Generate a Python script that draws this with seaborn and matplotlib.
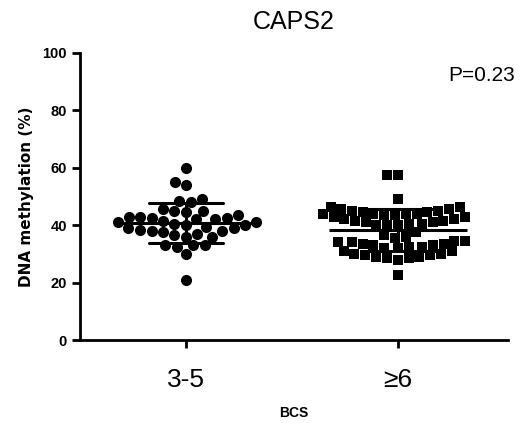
import numpy as np
import pandas as pd
import matplotlib
matplotlib.use("Agg")
import matplotlib.pyplot as plt
import seaborn as sns

categories = ["3-5", "≥6"]
bcs_3_5 = [60, 55, 54, 49, 48, 48.5, 45, 45, 45.5, 44.5,
           43.5, 43, 42.5, 42, 41.5, 41, 40.5, 40, 39.5, 42, 43, 42.5, 41, 40,
           39, 38.5, 38, 37.5, 38, 37, 39,
           36, 36, 36.5,
           33, 32.5, 33, 33,
           30, 21]
bcs_6 = [57.5, 57.5, 49,
         46.5, 45.5, 45, 44.5, 44, 44, 43.5, 43.5, 44, 44, 44.5, 45, 45.5, 46.5,
         43, 42, 41.5, 41, 40.5, 40, 40, 40, 40.5, 41, 41.5, 42, 43,
         37.5, 36.5, 36, 35.5,
         34.5, 34, 33.5, 33, 32.5, 32, 32, 32.5, 33, 33.5, 34, 34.5,
         31, 30, 29.5, 29, 28.5, 28, 28.5, 29, 29.5, 30, 31,
         22.5]
p_text = "P=0.23"
title = "CAPS2"
yticks = [0, 20, 40, 60, 80, 100]

df = pd.DataFrame({
    "BCS": [categories[0]] * len(bcs_3_5) + [categories[1]] * len(bcs_6),
    "meth": bcs_3_5 + bcs_6,
})

sns.set_style("ticks")
plt.rcParams["font.family"] = ["Liberation Sans", "DejaVu Sans"]
plt.rcParams["text.color"] = "black"
plt.rcParams["axes.labelcolor"] = "black"

fig = plt.figure(figsize=(5.23, 4.23), dpi=100)
ax = fig.add_axes([0.153, 0.196, 0.818, 0.679])

sns.swarmplot(data=df[df.BCS == categories[0]], x="BCS", y="meth", order=categories,
              marker="o", color="black", size=8, ax=ax, linewidth=0)
sns.swarmplot(data=df[df.BCS == categories[1]], x="BCS", y="meth", order=categories,
              marker="s", color="black", size=7.5, ax=ax, linewidth=0)
sns.pointplot(data=df, x="BCS", y="meth", order=categories, errorbar="sd",
              capsize=0.35, linestyle="none", marker="_", markersize=100,
              markeredgewidth=2.2, color="black", err_kws={"linewidth": 2.2}, ax=ax)

ax.set_xlim(-0.5, 1.52)
ax.set_ylim(0, 100)
ax.set_yticks(yticks)
ax.set_yticklabels([str(v) for v in yticks], fontsize=10.5, fontweight="bold", color="black")
ax.set_xticks(range(len(categories)))
ax.set_xticklabels(categories, fontsize=19, color="black")
ax.set_xlabel("BCS", fontsize=10, fontweight="bold", labelpad=10, color="black")
ax.set_ylabel("DNA methylation (%)", fontsize=11, fontweight="bold", labelpad=6,
              color="black", family=["DejaVu Sans"])
ax.set_title(title, fontsize=18, pad=17, color="black")
ax.text(1.016, 0.92, p_text, transform=ax.transAxes, ha="right", va="center",
        fontsize=15, color="black")

for s in ["top", "right"]:
    ax.spines[s].set_visible(False)
for s in ["left", "bottom"]:
    ax.spines[s].set_linewidth(2)
    ax.spines[s].set_color("black")
ax.tick_params(axis="both", width=2, length=6, color="black", labelcolor="black")
ax.tick_params(axis="x", pad=14)

fig.savefig("out.png", dpi=100)
